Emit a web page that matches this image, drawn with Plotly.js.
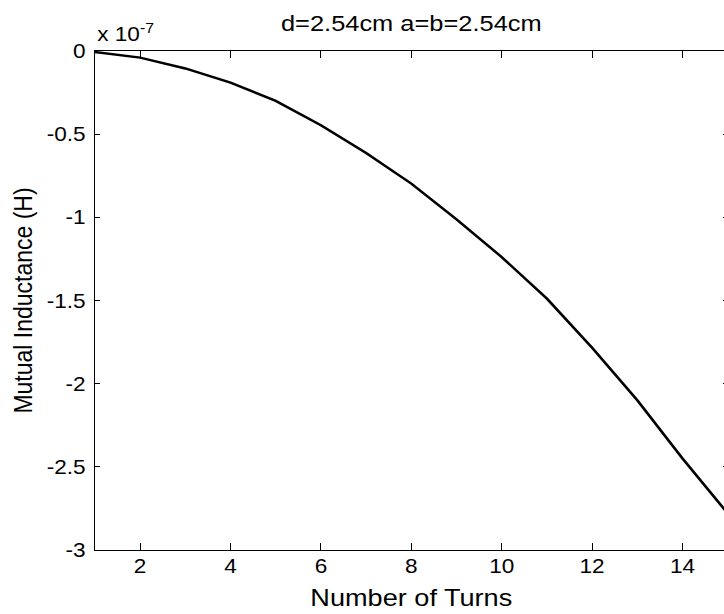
<!DOCTYPE html>
<html>
<head>
<meta charset="utf-8">
<script src="https://cdn.plot.ly/plotly-3.0.1.min.js"></script>
<style>
html,body{margin:0;padding:0;overflow:hidden;background:#fff;width:724px;height:614px;}
#chart{width:680px;height:614px;transform:scaleX(1.13);transform-origin:0 0;}
</style>
</head>
<body>
<div id="chart"></div>
<script>
// Number of turns
var turns = [1, 2, 3, 4, 5, 6, 7, 8, 9, 10, 11, 12, 13, 14, 15];
// Mutual inductance, in units of 1e-7 H (axis shows "x 10^-7")
var inductance = [-0.006, -0.04, -0.105, -0.19, -0.30, -0.447, -0.613, -0.797, -1.012, -1.239, -1.489, -1.784, -2.10, -2.45, -2.78];

var xTickVals = [2, 4, 6, 8, 10, 12, 14];
var xTickText = ["2", "4", "6", "8", "10", "12", "14"];
var yTickVals = [0, -0.5, -1, -1.5, -2, -2.5, -3];
var yTickText = ["0", "-0.5", "-1", "-1.5", "-2", "-2.5", "-3"];

var FONT = "Liberation Sans, Arial, Helvetica, sans-serif";

var trace = {
  x: turns,
  y: inductance,
  type: "scatter",
  mode: "lines",
  line: {color: "#000000", width: 2.4},
  hoverinfo: "skip",
  showlegend: false
};

var layout = {
  width: 680,
  height: 614,
  margin: {l: 84.1, r: 35.9, t: 51, b: 64, pad: 0},
  paper_bgcolor: "#ffffff",
  plot_bgcolor: "#ffffff",
  font: {family: FONT, size: 20, color: "#000000"},
  title: {
    text: "d=2.54cm a=b=2.54cm",
    font: {family: FONT, size: 22.5, color: "#000000"},
    xref: "paper", x: 0.5, xanchor: "center",
    yref: "container", y: 1 - 23/614, yanchor: "middle"
  },
  xaxis: {
    range: [1, 15],
    tickvals: xTickVals,
    ticktext: xTickText,
    ticks: "inside",
    ticklen: 7,
    tickwidth: 1,
    tickcolor: "#000000",
    showline: true,
    linecolor: "#000000",
    linewidth: 1.2,
    mirror: "ticks",
    showgrid: false,
    zeroline: false,
    tickfont: {family: FONT, size: 20, color: "#000000"},
    ticklabelstandoff: -2,
    title: {text: "Number of Turns", font: {family: FONT, size: 24, color: "#000000"}, standoff: 13}
  },
  yaxis: {
    range: [-3, 0],
    tickvals: yTickVals,
    ticktext: yTickText,
    ticks: "inside",
    ticklen: 4.5,
    tickwidth: 1,
    tickcolor: "#000000",
    showline: true,
    linecolor: "#000000",
    linewidth: 1.2,
    mirror: "ticks",
    showgrid: false,
    zeroline: false,
    tickfont: {family: FONT, size: 20, color: "#000000"},
    ticklabelstandoff: 3,
    title: {text: "Mutual Inductance (H)", font: {family: FONT, size: 23, color: "#000000"}, standoff: 6}
  },
  annotations: [
    {
      text: "x 10<sup>-7</sup>",
      xref: "paper", yref: "paper",
      x: 0, y: 1,
      xanchor: "left", yanchor: "bottom",
      yshift: 4,
      showarrow: false,
      font: {family: FONT, size: 20, color: "#000000"}
    }
  ]
};

Plotly.newPlot("chart", [trace], layout, {displayModeBar: false, staticPlot: true});
</script>
</body>
</html>
